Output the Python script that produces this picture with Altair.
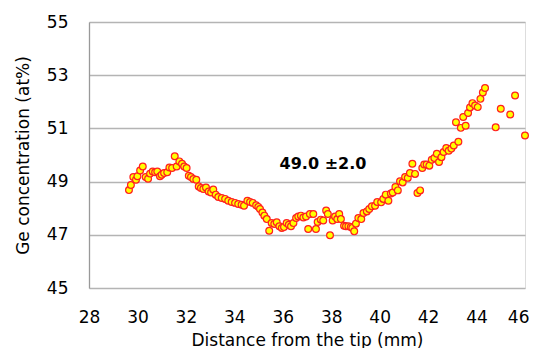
import altair as alt
import pandas as pd

distance = [
    29.65, 29.73, 29.83, 29.94, 30.00, 30.11, 30.22, 30.34, 30.44, 30.52,
    30.63, 30.73, 30.82, 30.93, 31.00, 31.10, 31.23, 31.32, 31.43, 31.54,
    31.62, 31.73, 31.84, 31.93, 32.03, 32.12, 32.21, 32.31, 32.43, 32.53,
    32.62, 32.72, 32.83, 32.94, 33.04, 33.13, 33.23, 33.34, 33.48, 33.62,
    33.75,
    33.89, 34.03, 34.16, 34.30, 34.40, 34.54, 34.65, 34.76, 34.90, 34.99,
    35.06, 35.16, 35.24, 35.34, 35.44, 35.54, 35.65, 35.75, 35.86, 35.96,
    36.05, 36.16, 36.25, 36.34, 36.44, 36.55, 36.64, 36.75, 36.85, 36.96,
    37.05, 37.12, 37.26, 37.37, 37.44, 37.57, 37.67, 37.79, 37.86, 37.95,
    38.06, 38.16, 38.25, 38.33, 38.40, 38.53, 38.61, 38.71, 38.81, 38.87,
    38.95, 39.02, 39.12, 39.24, 39.33, 39.47, 39.57, 39.68, 39.81, 39.90,
    40.06, 40.15, 40.25, 40.36, 40.46, 40.54, 40.65, 40.75, 40.84, 40.95,
    41.05, 41.16, 41.25, 41.35, 41.46, 41.56, 41.67, 41.76, 41.84, 41.94,
    42.05, 42.15, 42.26, 42.36, 42.45, 42.55, 42.64, 42.75, 42.85, 42.96,
    43.06, 43.15, 43.25, 43.35, 43.45, 43.55, 43.65, 43.73, 43.83, 43.94,
    44.05, 44.16, 44.26, 44.35, 44.79, 45.00, 45.39, 45.59, 46.00,
]
ge_conc = [
    48.68, 48.87, 49.17, 49.07, 49.20, 49.42, 49.57, 49.17, 49.11, 49.30,
    49.38, 49.35, 49.38, 49.20, 49.26, 49.32, 49.35, 49.53, 49.51, 49.95,
    49.57, 49.76, 49.67, 49.57, 49.51, 49.22, 49.17, 49.10, 49.07, 48.82,
    48.76, 48.72, 48.78, 48.63, 48.59, 48.70, 48.51, 48.42, 48.38, 48.35,
    48.28,
    48.23, 48.20, 48.16, 48.13, 48.09, 48.28, 48.23, 48.20, 48.11, 48.05,
    47.97, 47.84, 47.72, 47.59, 47.15, 47.44, 47.41, 47.47, 47.32, 47.26,
    47.29, 47.44, 47.38, 47.32, 47.44, 47.63, 47.69, 47.72, 47.65, 47.69,
    47.22, 47.78, 47.78, 47.22, 47.48, 47.57, 47.54, 47.91, 47.78, 46.98,
    47.54, 47.69, 47.59, 47.78, 47.59, 47.34, 47.32, 47.32, 47.29, 47.26,
    47.13, 47.42, 47.63, 47.59, 47.82, 47.88, 47.97, 48.07, 48.09, 48.23,
    48.22, 48.35, 48.51, 48.28, 48.55, 48.59, 48.80, 48.67, 49.01, 48.97,
    49.17, 49.14, 49.32, 49.67, 49.29, 48.57, 48.67, 49.51, 49.64, 49.64,
    49.60, 49.82, 49.89, 50.05, 49.74, 49.92, 50.11, 50.26, 50.16, 50.24,
    50.36, 51.23, 50.50, 51.02, 51.43, 51.10, 51.58, 51.79, 51.95, 51.86,
    51.80, 52.11, 52.35, 52.52, 51.04, 51.74, 51.52, 52.24, 50.73,
]

x_ticks = [28, 30, 32, 34, 36, 38, 40, 42, 44, 46]
y_ticks = [45, 47, 49, 51, 53, 55]

note_text = ["49.0 \u00b12.0"]
note_x = [37.66]
note_y = [49.67]

df = pd.DataFrame({"d": distance, "ge": ge_conc})
notes = pd.DataFrame({"t": note_text, "x": note_x, "y": note_y})

FONT = "DejaVu Sans"

xscale = alt.Scale(domain=[28, 46], nice=False, zero=False)
yscale = alt.Scale(domain=[45, 55], nice=False, zero=False)

last_tick = "datum.value >= 46"

points = alt.Chart(df).mark_point(
    filled=True, fill="#FFFF00", stroke="#FF2020", strokeWidth=1.2,
    size=46, opacity=1, shape="circle",
).encode(
    x=alt.X("d:Q", scale=xscale, axis=alt.Axis(
        values=x_ticks, title="Distance from the tip (mm)", grid=False,
        domain=False, ticks=False, labelFont=FONT, labelFontSize=17,
        labelColor="#000000", labelPadding=21, labelFlush=False,
        labelOverlap=False, labelBound=False,
        labelAlign={"condition": {"test": last_tick, "value": "right"}, "value": "center"},
        labelOffset={"condition": {"test": last_tick, "value": 4}, "value": 0},
        titleFont=FONT,
        titleFontSize=17, titleFontWeight="normal", titleColor="#000000",
        titleBaseline="alphabetic", titleY=57,
    )),
    y=alt.Y("ge:Q", scale=yscale, axis=alt.Axis(
        values=y_ticks, title="Ge concentration (at%)", grid=True,
        gridColor="#B4B4B4", gridWidth=1.3, domain=True,
        domainColor="#999999", domainWidth=1.3, ticks=False,
        labelFont=FONT, labelFontSize=17, labelColor="#000000",
        labelPadding=21, labelFlush=False, labelOverlap=False,
        titleFont=FONT, titleFontSize=17,
        titleFontWeight="normal", titleColor="#000000",
        titleBaseline="alphabetic", titleX=-61, titleY=133, titleAngle=270,
    )),
)

note = alt.Chart(notes).mark_text(
    font=FONT, fontSize=16, fontWeight="bold", color="#000000",
    align="center", baseline="middle",
).encode(
    x=alt.X("x:Q", scale=xscale),
    y=alt.Y("y:Q", scale=yscale),
    text="t:N",
)

chart = alt.layer(points, note).properties(
    width=436, height=266,
    autosize=alt.AutoSizeParams(type="none"),
    padding={"left": 81, "top": 14, "right": 4, "bottom": 60},
).configure_view(stroke=None).configure(background="#FFFFFF")

chart.save("out.html", embed_options={"renderer": "svg", "actions": False})
